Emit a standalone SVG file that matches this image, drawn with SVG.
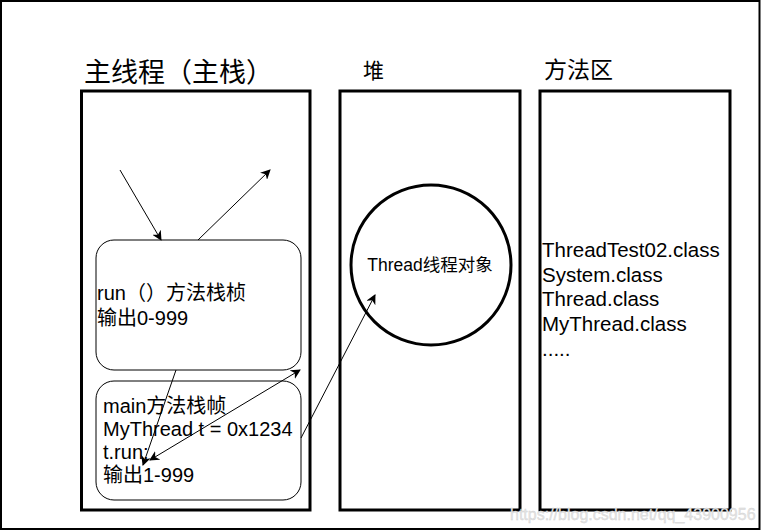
<svg xmlns="http://www.w3.org/2000/svg" width="762" height="532" viewBox="0 0 762 532">
<style>
.t{font-family:"Liberation Sans","Noto Sans CJK SC",Arial,sans-serif;fill:#000;}
.box{fill:#fff;stroke:#000;stroke-width:3;}
.ln{stroke:#000;stroke-width:1;fill:none;}
</style>
<defs>
<marker id="ah" viewBox="0 0 10 10" refX="9" refY="5" markerWidth="10" markerHeight="10" markerUnits="userSpaceOnUse" orient="auto-start-reverse">
<path d="M0,0 L10,5 L0,10 L3,5 z" fill="#000"/>
</marker>
</defs>
<rect x="0" y="0" width="762" height="532" fill="#fff"/>
<rect x="1" y="1" width="758.5" height="528" fill="none" stroke="#000" stroke-width="2"/>

<g id="main-stack">
<text class="t" x="84" y="82" font-size="27">主线程（主栈）</text>
<rect class="box" x="81.5" y="91" width="228.5" height="419"/>
</g>
<g id="heap">
<text class="t" x="363" y="78" font-size="21">堆</text>
<rect class="box" x="340" y="91" width="180" height="419"/>
</g>
<g id="method-area">
<text class="t" x="544" y="78" font-size="23">方法区</text>
<rect class="box" x="540" y="91" width="190" height="419"/>
<text class="t" x="542" y="257" font-size="20.5">ThreadTest02.class</text>
<text class="t" x="542" y="282" font-size="20.5">System.class</text>
<text class="t" x="542" y="306" font-size="20.5">Thread.class</text>
<text class="t" x="542" y="331" font-size="20.5">MyThread.class</text>
<text class="t" x="542" y="356" font-size="20.5">.....</text>
</g>
<g id="thread-object">
<circle cx="431" cy="265" r="80" fill="#fff" stroke="#000" stroke-width="3"/>
<text class="t" x="430" y="271" font-size="17.5" text-anchor="middle" fill="#333">Thread线程对象</text>
</g>
<g id="run-frame">
<rect x="96" y="240" width="205" height="130" rx="18" ry="18" fill="#fff" stroke="#000" stroke-width="1"/>
<text class="t" x="97" y="300" font-size="20">run（）方法栈桢</text>
<text class="t" x="97" y="325" font-size="20">输出0-999</text>
</g>
<g id="main-frame">
<rect x="96" y="381" width="205" height="119" rx="18" ry="18" fill="#fff" stroke="#000" stroke-width="1"/>
<text class="t" x="103" y="413" font-size="20">main方法栈帧</text>
<text class="t" x="103" y="436" font-size="20">MyThread t = 0x1234</text>
<text class="t" x="103" y="459" font-size="20">t.run;</text>
<text class="t" x="103" y="482" font-size="20">输出1-999</text>
</g>
<g id="connectors">
<line class="ln" x1="120" y1="170" x2="161" y2="240" marker-end="url(#ah)"/>
<line class="ln" x1="198" y1="240" x2="270" y2="170" marker-end="url(#ah)"/>
<line class="ln" x1="176" y1="370" x2="143" y2="465" marker-end="url(#ah)"/>
<line class="ln" x1="150" y1="460" x2="300" y2="370" marker-start="url(#ah)" marker-end="url(#ah)"/>
<line class="ln" x1="301" y1="438" x2="375" y2="295" marker-end="url(#ah)"/>
</g>
<text x="510" y="520" font-family="Liberation Sans,Arial,sans-serif" font-size="16" fill="#e4e4e4" stroke="#cfcfcf" stroke-width="0.3">https://blog.csdn.net/qq_43900956</text>
</svg>
